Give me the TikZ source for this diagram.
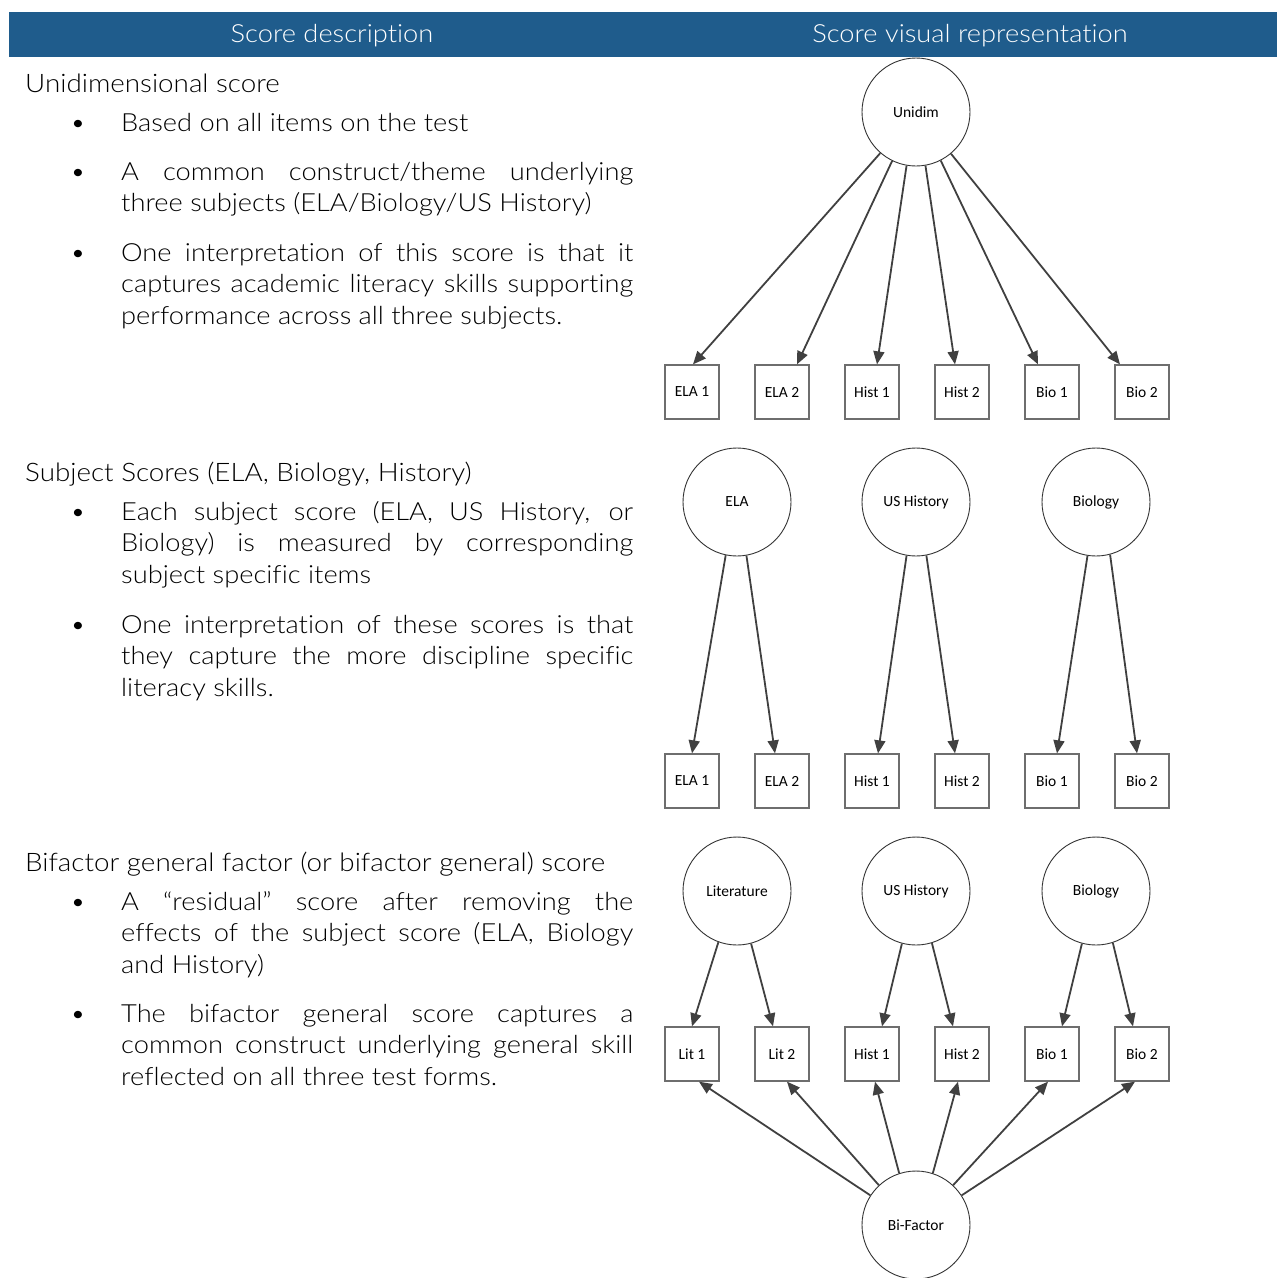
\documentclass[tikz,border=0pt]{standalone}
\usepackage{fontspec}
\setmainfont{Lato Light}[FakeStretch=1.09,Ligatures=NoCommon]
\newfontfamily\boxfont{Carlito}
\usetikzlibrary{arrows.meta}
\definecolor{hdr}{RGB}{31,92,140}
\definecolor{arr}{RGB}{64,64,64}
\definecolor{boxline}{RGB}{110,110,110}
\begin{document}
\begin{tikzpicture}[x=1pt,y=-1pt,
  latent/.style={circle,draw=black!80,line width=0.9pt,minimum size=108pt,inner sep=0pt,font=\boxfont\fontsize{15.5}{17}\selectfont},
  item/.style={rectangle,draw=boxline,line width=1.3pt,minimum size=54pt,inner sep=0pt,font=\boxfont\fontsize{15.5}{17}\selectfont},
  load/.style={draw=arr,line width=1.8pt,-{Triangle[length=13pt,width=11pt]}},
  bultext/.style={anchor=base west,text width=512pt,align=justify,inner sep=0pt,font=\fontsize{25}{31.6}\selectfont},
  bulmark/.style={anchor=base,inner sep=0pt,font=\fontsize{25}{31.6}\selectfont},
  ttl/.style={anchor=base west,inner sep=0pt,font=\fontsize{25.5}{30}\selectfont},
  hdrtext/.style={text=white,inner sep=0pt,font=\fontsize{25}{30}\selectfont}]
\useasboundingbox (0,0) rectangle (1277,1278);
% header
\fill[hdr] (9,12) rectangle (1277,57);
\node[hdrtext] (h1t) at (332,36) {Score description};
\node[hdrtext] (h2t) at (970,36) {Score visual representation};

% ---------- left column ----------
\node[ttl] (t1) at (25,92) {Unidimensional score};
\node[bulmark] (m1) at (78,131) {\textbullet};
\node[bultext] (p1) at (121,131) {Based on all items on the test};
\node[bulmark] (m2) at (78,180) {\textbullet};
\node[bultext] (p2) at (121,180) {A common construct/theme underlying\linebreak three subjects (ELA/Biology/US History)};
\node[bulmark] (m3) at (78,261) {\textbullet};
\node[bultext] (p3) at (121,261) {One interpretation of this score is that it\linebreak captures academic literacy skills supporting\linebreak performance across all three subjects.};

\node[ttl] (t2) at (25,481) {Subject Scores (ELA, Biology, History)};
\node[bulmark] (m4) at (78,520) {\textbullet};
\node[bultext] (p4) at (121,520) {Each subject score (ELA, US History, or\linebreak Biology) is measured by corresponding\linebreak subject specific items};
\node[bulmark] (m5) at (78,633) {\textbullet};
\node[bultext] (p5) at (121,633) {One interpretation of these scores is that\linebreak they capture the more discipline specific\linebreak literacy skills.};

\node[ttl] (t3) at (25,871) {Bifactor general factor (or bifactor general) score};
\node[bulmark] (m6) at (78,910) {\textbullet};
\node[bultext] (p6) at (121,910) {A “residual” score after removing the\linebreak effects of the subject score (ELA, Biology\linebreak and History)};
\node[bulmark] (m7) at (78,1022) {\textbullet};
\node[bultext] (p7) at (121,1022) {The bifactor general score captures a\linebreak common construct underlying general skill\linebreak reflected on all three test forms.};

% ---------- diagram 1 ----------
\node[latent] (u) at (916,112) {Unidim};
\node[item] (ae1) at (692,392) {ELA 1};
\node[item] (ae2) at (782,392) {ELA 2};
\node[item] (ah1) at (872,392) {Hist 1};
\node[item] (ah2) at (962,392) {Hist 2};
\node[item] (ab1) at (1052,392) {Bio 1};
\node[item] (ab2) at (1142,392) {Bio 2};
\draw[load] (u.229) -- ([xshift=1pt]ae1.north);
\draw[load] (u.244) -- ([xshift=15pt]ae2.north);
\draw[load] (u.260.5) -- ([xshift=5pt]ah1.north);
\draw[load] (u.280.5) -- ([xshift=-7pt]ah2.north);
\draw[load] (u.297.5) -- ([xshift=-14pt]ab1.north);
\draw[load] (u.310.5) -- ([xshift=-22pt]ab2.north);

% ---------- diagram 2 ----------
\node[latent] (sela) at (737,502) {ELA};
\node[latent] (sush) at (916,502) {US History};
\node[latent] (sbio) at (1096,502) {Biology};
\node[item] (be1) at (692,781) {ELA 1};
\node[item] (be2) at (782,781) {ELA 2};
\node[item] (bh1) at (872,781) {Hist 1};
\node[item] (bh2) at (962,781) {Hist 2};
\node[item] (bb1) at (1052,781) {Bio 1};
\node[item] (bb2) at (1142,781) {Bio 2};
\draw[load] (sela.258) -- ([xshift=0pt]be1.north);
\draw[load] (sela.280) -- ([xshift=-7pt]be2.north);
\draw[load] (sush.260.5) -- ([xshift=6pt]bh1.north);
\draw[load] (sush.281.5) -- ([xshift=-7pt]bh2.north);
\draw[load] (sbio.261.5) -- ([xshift=5pt]bb1.north);
\draw[load] (sbio.285) -- ([xshift=-5pt]bb2.north);

% ---------- diagram 3 ----------
\node[latent] (clit) at (737,891) {Literature};
\node[latent] (cush) at (916,891) {US History};
\node[latent] (cbio) at (1096,891) {Biology};
\node[item] (cl1) at (692,1054) {Lit 1};
\node[item] (cl2) at (782,1054) {Lit 2};
\node[item] (ch1) at (872,1054) {Hist 1};
\node[item] (ch2) at (962,1054) {Hist 2};
\node[item] (cb1) at (1052,1054) {Bio 1};
\node[item] (cb2) at (1142,1054) {Bio 2};
\node[latent] (bif) at (916,1225) {Bi-Factor};
\draw[load] (clit.250.5) -- ([xshift=0pt]cl1.north);
\draw[load] (clit.285) -- ([xshift=-9pt]cl2.north);
\draw[load] (cush.255) -- ([xshift=10pt]ch1.north);
\draw[load] (cush.287) -- ([xshift=-9pt]ch2.north);
\draw[load] (cbio.255) -- ([xshift=10pt]cb1.north);
\draw[load] (cbio.288) -- ([xshift=-9pt]cb2.north);
\draw[load] (bif.147) -- ([xshift=7pt]cl1.south);
\draw[load] (bif.133.5) -- ([xshift=5pt]cl2.south);
\draw[load] (bif.108) -- ([xshift=3pt]ch1.south);
\draw[load] (bif.72) -- ([xshift=-4pt]ch2.south);
\draw[load] (bif.47) -- ([xshift=-4pt]cb1.south);
\draw[load] (bif.33) -- ([xshift=-7pt]cb2.south);
\end{tikzpicture}
\end{document}
